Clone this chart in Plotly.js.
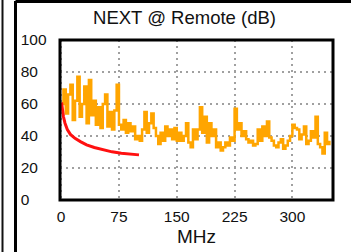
<!DOCTYPE html>
<html>
<head>
<meta charset="utf-8">
<script src="https://cdn.plot.ly/plotly-3.0.1.min.js"></script>
<style>html,body{margin:0;padding:0;background:#fff;}#chart{width:351px;height:252px;}</style>
</head>
<body>
<div id="chart"></div>
<script>
// Measured NEXT (orange) trace
var nextMHz = [0,3,6,9,12,15,18,21,24,27,30,33,36,39,42,45,48,51,54,57,60,63,66,69,72,75,
  78,81,84,87,90,93,96,99,102,105,108,111,114,117,120,123,126,129,132,135,138,141,144,147,150,
  153,156,159,162,165,168,171,174,177,180,183,186,189,192,195,198,201,204,207,210,213,216,219,222,225,
  228,231,234,237,240,243,246,249,252,255,258,261,264,267,270,273,276,279,282,285,288,291,294,297,300,
  303,306,309,312,315,318,321,324,327,330,333,336,339,342,345,348];
var nextDB = [60,69,54,66,72,50,62,77,52,60,71,48,75,53,62,47,58,45,60,66,46,55,44,56,72,47,
  44,50,42,48,43,46,38,40,37,44,55,42,48,54,45,40,35,42,37,46,40,44,38,45,37,
  42,37,40,48,36,33,44,38,44,58,42,52,36,48,40,44,33,36,31,33,36,34,39,37,57,
  44,48,40,43,38,36,37,34,35,44,37,46,40,49,39,37,34,33,36,38,32,34,37,40,47,
  45,44,38,41,46,35,37,43,39,52,35,33,29,42,35,37];
// Limit line (red)
var limitMHz = [0.5,1.5,3,5,8,12,18,25,33,43,55,66,78,90,101];
var limitDB = [61,57,52,48,44,41,38.5,36.5,34.5,32.8,31.3,30.1,29.2,28.5,28.2];
// Axis ticks
var xTicks = [0,75,150,225,300];
var yTicks = [0,20,40,60,80,100];

var W = 351, H = 252, ML = 10, MR = 18, MT = 40, MB = 52;
var plotW = W - ML - MR, plotH = H - MT - MB;
function px2paperX(px){ return (px - ML) / plotW; }
function py2paperY(py){ return (H - MB - py) / plotH; }

var font = "Liberation Sans, Arial, Helvetica, sans-serif";
var traces = [
  {x: nextMHz, y: nextDB, type: 'scatter', mode: 'lines',
   line: {color: '#FFA500', width: 2.5, shape: 'hv'}, hoverinfo: 'skip'},
  {x: limitMHz, y: limitDB, type: 'scatter', mode: 'lines',
   line: {color: '#FF1010', width: 3}, hoverinfo: 'skip'}
];
var grid = {showgrid: true, gridcolor: '#a0a0a0', gridwidth: 2, griddash: '2px,4px'};
var layout = {
  width: W, height: H,
  margin: {l: ML, r: MR, t: MT, b: MB, pad: 0},
  paper_bgcolor: '#ffffff', plot_bgcolor: '#ffffff',
  showlegend: false,
  font: {family: font, color: '#111', size: 16},
  title: {text: 'NEXT @ Remote (dB)', font: {family: font, size: 18.5, color: '#111'},
          x: 184.5 / W, xanchor: 'center', y: 1 - 18 / H, yanchor: 'middle'},
  xaxis: Object.assign({}, grid, {
    domain: [px2paperX(60), 1], range: [-1.5, 352.7],
    tickvals: xTicks, ticktext: xTicks.map(String), ticks: '',
    tickfont: {family: font, size: 15.5, color: '#111'},
    ticklabelstandoff: 5,
    zeroline: false, showline: false,
    title: {text: 'MHz', font: {family: font, size: 19, color: '#111'}, standoff: 6}
  }),
  yaxis: Object.assign({}, grid, {
    range: [0, 100], anchor: 'free', side: 'right', position: 0.03,
    tickvals: yTicks, ticktext: yTicks.map(String), ticks: '',
    tickfont: {family: font, size: 15.5, color: '#111'},
    zeroline: false, showline: false
  }),
  shapes: [
    {type: 'rect', xref: 'x domain', yref: 'y domain', x0: 0, x1: 1, y0: 0, y1: 1,
     line: {color: '#000', width: 3}, layer: 'above'},
    {type: 'line', xref: 'paper', yref: 'paper', x0: px2paperX(2.5), x1: px2paperX(2.5),
     y0: py2paperY(0), y1: py2paperY(252), line: {color: '#111', width: 2}},
    {type: 'line', xref: 'paper', yref: 'paper', x0: px2paperX(15.5), x1: px2paperX(15.5),
     y0: py2paperY(1), y1: py2paperY(252), line: {color: '#000', width: 3}},
    {type: 'line', xref: 'paper', yref: 'paper', x0: px2paperX(15.5), x1: px2paperX(351),
     y0: py2paperY(1.5), y1: py2paperY(1.5), line: {color: '#000', width: 3}}
  ]
};
Plotly.newPlot('chart', traces, layout, {displayModeBar: false, staticPlot: true});
</script>
</body>
</html>
